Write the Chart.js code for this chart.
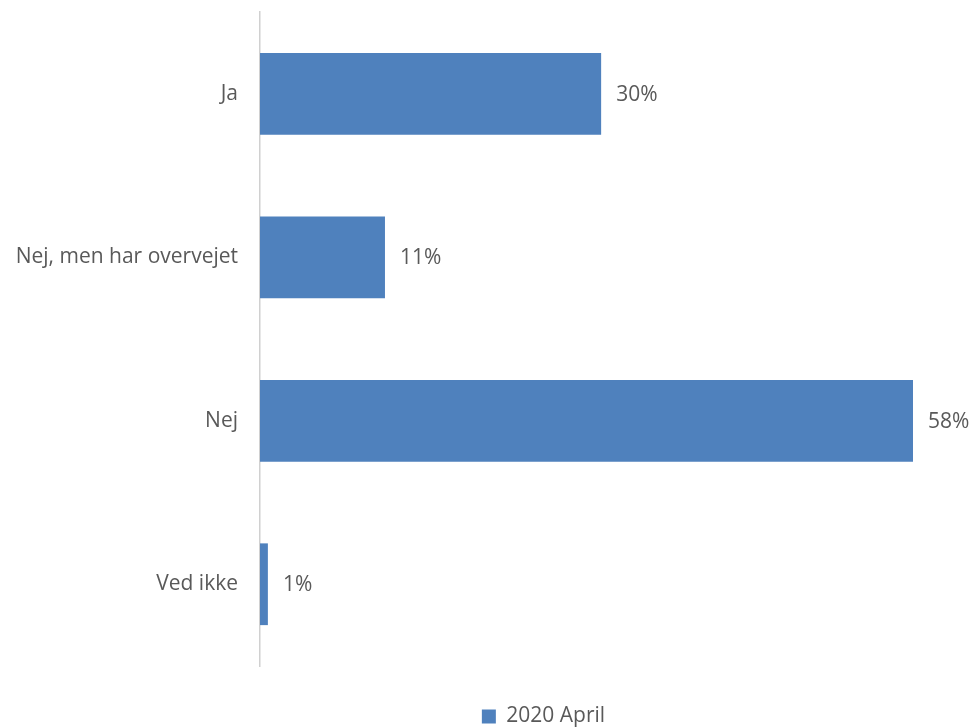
<!DOCTYPE html>
<html>
<head>
<meta charset="utf-8">
<script src="https://cdn.jsdelivr.net/npm/chart.js@4/dist/chart.umd.min.js"></script>
<style>
  html, body { margin: 0; padding: 0; background: #ffffff; }
  #wrap { width: 977px; height: 728px; position: relative; }
</style>
</head>
<body>
<div id="wrap"><canvas id="c"></canvas></div>
<script>
const categories = ["Ja", "Nej, men har overvejet", "Nej", "Ved ikke"];
const seriesName = "2020 April";
const values = [30.3, 11.1, 58.0, 0.7];
const valueLabels = ["30%", "11%", "58%", "1%"];

const FONT = "'Open Sans', sans-serif";
const TEXT = "#595959";

const valueLabelPlugin = {
  id: "valueLabels",
  afterDatasetsDraw(chart) {
    const ctx = chart.ctx;
    const meta = chart.getDatasetMeta(0);
    ctx.save();
    ctx.font = "21px " + FONT;
    ctx.fillStyle = TEXT;
    ctx.textAlign = "left";
    ctx.textBaseline = "middle";
    meta.data.forEach((bar, i) => {
      ctx.fillText(valueLabels[i], bar.x + 15, bar.y + 1);
    });
    ctx.restore();
  }
};

// shift the legend horizontally so it sits where the reference has it
const legendShift = {
  id: "legendShift",
  afterLayout(chart) {
    const lg = chart.legend;
    if (lg) { lg.left += 87; lg.right += 87; }
  }
};

new Chart(document.getElementById("c"), {
  type: "bar",
  data: {
    labels: categories,
    datasets: [{
      label: seriesName,
      data: values,
      backgroundColor: "#4f81bd",
      borderWidth: 0,
      barPercentage: 0.5,
      categoryPercentage: 1.0
    }]
  },
  options: {
    indexAxis: "y",
    responsive: true,
    maintainAspectRatio: false,
    animation: false,
    layout: { padding: { top: 12, right: 64, bottom: -9, left: 0 } },
    scales: {
      x: {
        min: 0,
        max: 58,
        display: true,
        grid: { display: false, drawTicks: false },
        border: { display: false },
        ticks: { display: false },
        afterFit(s) { s.height = 38; s.paddingLeft = 0; s.paddingRight = 0; }
      },
      y: {
        grid: { display: false, drawTicks: false },
        border: { display: true, color: "#d0d0d0", width: 1.5 },
        ticks: {
          color: TEXT,
          font: { family: FONT, size: 21 },
          padding: 22
        },
        afterFit(s) { s.width = 260; s.paddingTop = 0; s.paddingBottom = 0; }
      }
    },
    plugins: {
      legend: {
        display: true,
        position: "bottom",
        labels: {
          color: TEXT,
          font: { family: FONT, size: 21 },
          boxWidth: 14,
          boxHeight: 14,
          padding: 2
        }
      },
      tooltip: { enabled: false }
    }
  },
  plugins: [valueLabelPlugin, legendShift]
});
</script>
</body>
</html>
